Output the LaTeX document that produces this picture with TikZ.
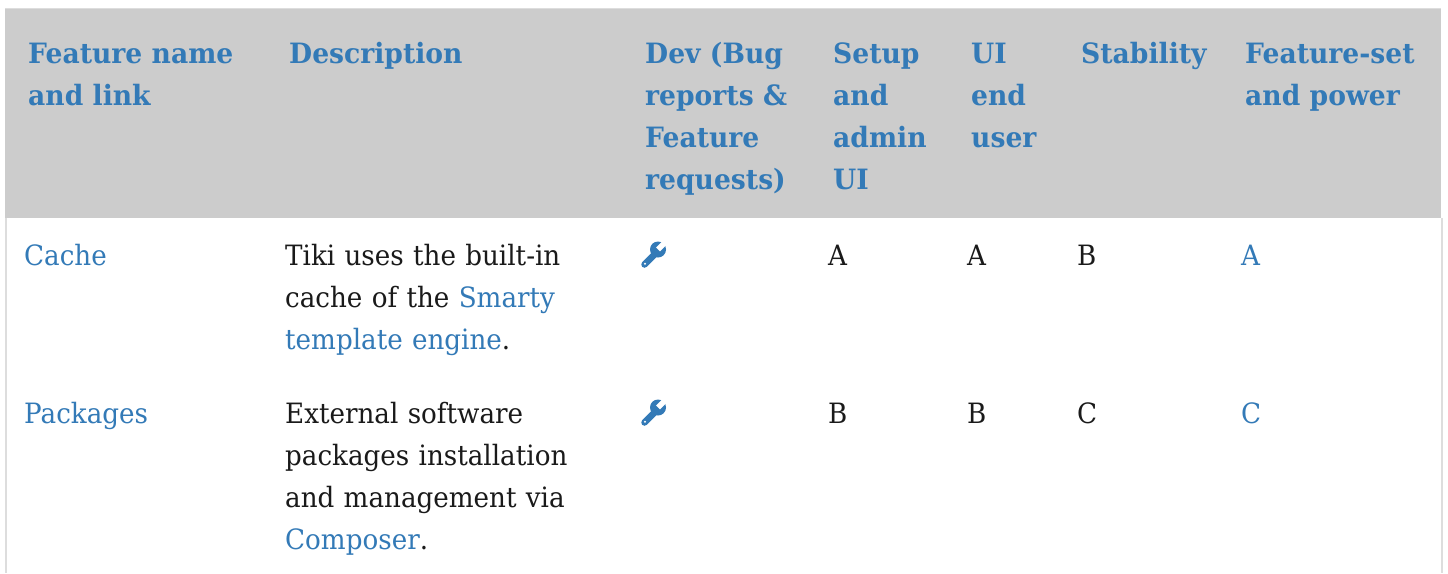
\documentclass[tikz,border=0pt]{standalone}
\usepackage{fontspec}
\setmainfont{DejaVu Serif}[FakeStretch=0.935,BoldFeatures={FakeStretch=0.95}]
\definecolor{linkblue}{HTML}{337AB7}
\definecolor{headgray}{HTML}{CCCCCC}
\definecolor{bordergray}{HTML}{DDDDDD}
\definecolor{bodyblack}{HTML}{1A1A1A}
\begin{document}
\begin{tikzpicture}[x=1pt,y=-1pt,
  headtxt/.style={anchor=base west,inner sep=0pt,text width=260pt,align=left,
    font=\fontsize{28}{42}\selectfont\bfseries,text=linkblue},
  bodytxt/.style={anchor=base west,inner sep=0pt,text width=360pt,align=left,
    font=\fontsize{28}{42}\selectfont,text=bodyblack},
  linktxt/.style={bodytxt,text=linkblue}]
\useasboundingbox (0,0) rectangle (1448,573);
\fill[white] (0,0) rectangle (1448,573);
% header band
\fill[headgray] (5,8) rectangle (1441,218);
\draw[bordergray,line width=1pt] (5,8.5) -- (1441,8.5);
% side borders
\draw[bordergray,line width=2pt] (6,218) -- (6,573);
\draw[bordergray,line width=2pt] (1442,218) -- (1442,573);
% header texts
\node[headtxt] (h1) at (28,63) {Feature name\\and link};
\node[headtxt] (h2) at (289,63) {Description};
\node[headtxt] (h3) at (645,63) {Dev (Bug\\reports \&\\Feature\\requests)};
\node[headtxt] (h4) at (833,63) {Setup\\and\\admin\\UI};
\node[headtxt] (h5) at (971,63) {UI\\end\\user};
\node[headtxt] (h6) at (1081,63) {Stability};
\node[headtxt] (h7) at (1245,63) {Feature-set\\and power};
% row 1
\node[linktxt] (c1) at (24,265) {Cache};
\node[bodytxt] (d1) at (285,265) {Tiki uses the built-in\\cache of the {\color{linkblue}Smarty}\\{\color{linkblue}template engine}.};
\node[bodytxt] (s1) at (828,265) {A};
\node[bodytxt] (u1) at (967,265) {A};
\node[bodytxt] (t1) at (1077,265) {B};
\node[linktxt] (f1) at (1241,265) {A};
% row 2
\node[linktxt] (c2) at (24,423) {Packages};
\node[bodytxt] (d2) at (285,423) {External software\\packages installation\\and management via\\{\color{linkblue}Composer}.};
\node[bodytxt] (s2) at (828,423) {B};
\node[bodytxt] (u2) at (967,423) {B};
\node[bodytxt] (t2) at (1077,423) {C};
\node[linktxt] (f2) at (1241,423) {C};
% wrench icons
\foreach \yy/\nm in {0/w1,158/w2}{
  \begin{scope}[shift={(0,\yy)}]
    \coordinate (\nm) at (653,256);
    \draw[linkblue,line width=6.5pt,line cap=round] (644.5,264.5) -- (656,253);
    \fill[linkblue] (658,249.5) circle (8pt);
    \fill[white,rotate around={45:(658,249.5)}] (658,246.7) rectangle (668,252.3);
    \fill[white] (645,263.8) circle (1.1pt);
  \end{scope}
}
\end{tikzpicture}
\end{document}
